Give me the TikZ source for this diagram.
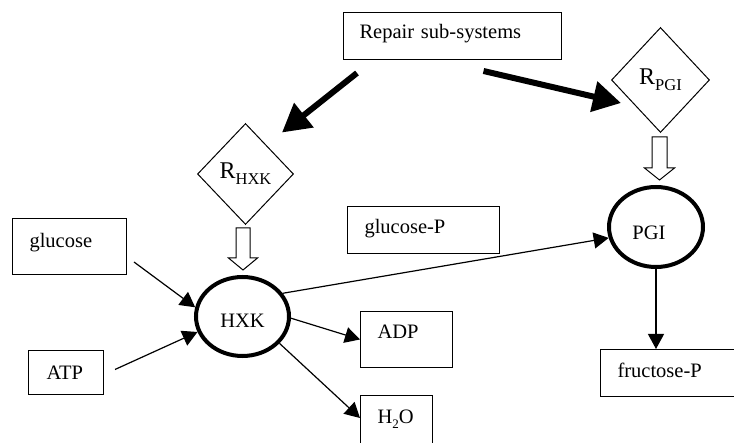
\documentclass[tikz,border=0pt]{standalone}
\usepackage{fontspec}
\setmainfont{Liberation Serif}
\usetikzlibrary{shapes.geometric,arrows.meta,calc}
\begin{document}
\begin{tikzpicture}[x=1pt,y=-1pt,
  font=\fontsize{20.5}{24}\selectfont,
  box/.style={draw, line width=1pt, rectangle, anchor=north west, align=left, inner ysep=0pt, text height=14pt},
  enz/.style={draw, ellipse, line width=4pt, inner sep=0pt},
  repd/.style={draw, diamond, line width=1pt, inner sep=0pt},
  flowarrow/.style={line width=1.2pt, -{Triangle[length=15pt,width=16pt]}},
  bigarrow/.style={line width=6pt, -{Triangle[length=28pt,width=30pt]}},
  hollow/.style={draw, line width=1pt, fill=white, line join=miter}]
\useasboundingbox (0,0) rectangle (734,443);
\clip (0,0) rectangle (734,443);

% boxes
\node[box, minimum width=218, minimum height=47, text width=186, inner xsep=16, text depth=9pt] (rep) at (343,12) {Repair sub-systems};
\node[box, minimum width=114, minimum height=56, text width=80, inner xsep=17, text depth=12pt] (glu) at (12,218) {glucose};
\node[box, minimum width=75, minimum height=44, text width=39, inner xsep=18, text depth=0pt] (atp) at (28,350) {ATP};
\node[box, minimum width=152, minimum height=47, text width=118, inner xsep=17, text depth=7pt] (glup) at (347,206) {glucose-P};
\node[box, minimum width=92, minimum height=56, text width=58, inner xsep=17, text depth=16pt] (adp) at (360,311) {ADP};
\node[box, minimum width=72, minimum height=60, text width=38, inner xsep=17, text depth=18pt] (h2o) at (360,395) {H\raisebox{-5pt}{\fontsize{13}{14}\selectfont 2}O};
\node[box, minimum width=150, minimum height=47, text width=116, inner xsep=17, text depth=5pt] (fru) at (600,349) {fructose-P};

% repair diamonds
\node[repd, minimum width=96, minimum height=101] (rh) at (245.5,174) {{\fontsize{24}{26}\selectfont R}\raisebox{-6pt}{\fontsize{16.5}{18}\selectfont HXK}};
\node[repd, minimum width=98, minimum height=105] (rp) at (660.5,80) {{\fontsize{24}{26}\selectfont R}\raisebox{-6pt}{\fontsize{16.5}{18}\selectfont PGI}};

% enzymes
\node[enz, minimum width=93, minimum height=79, text height=23pt, text depth=0pt] (hxk) at (242.5,316.5) {HXK};
\node[enz, minimum width=94, minimum height=80, text height=26pt, text depth=0pt] (pgi) at (656,227) {\hspace*{-14pt}PGI};

% thick arrows from repair sub-systems
\draw[bigarrow] ($(rep.south west)+(14,13)$) -- ($(rh.north)+(36.5,9.5)$);
\draw[bigarrow] ($(rep.south)+(31,11)$) -- ($(rp.west)+(10,23)$);

% hollow arrows
\coordinate (ha) at ($(rh.south)+(-2.5,3)$);
\draw[hollow] (ha) ++(-7,0) -- ++(0,30) -- ++(-7.5,0) -- ++(14.5,12) -- ++(14.5,-12) -- ++(-7.5,0) -- ++(0,-30) -- cycle;
\coordinate (hb) at ($(rp.south)+(-1,4)$);
\draw[hollow] (hb) ++(-7.5,0) -- ++(0,31) -- ++(-7.5,0) -- ++(15,12) -- ++(15,-12) -- ++(-7.5,0) -- ++(0,-31) -- cycle;

% reaction arrows
\draw[flowarrow] ($(glu.south east)+(7,-13)$) -- (hxk.169);
\draw[flowarrow] ($(atp.east)+(11,-3)$) -- (hxk.199);
\draw[flowarrow] (hxk.30) -- (pgi.193);
\draw[flowarrow] (hxk.358) -- (adp.west);
\draw[flowarrow] (hxk.324) -- ($(h2o.north west)+(0,23)$);
\draw[flowarrow] (pgi.south) -- (pgi.south |- fru.north);
\end{tikzpicture}
\end{document}
